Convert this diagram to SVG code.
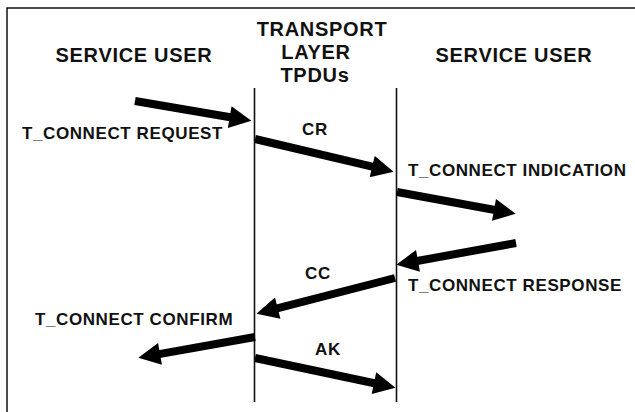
<svg xmlns="http://www.w3.org/2000/svg" width="635" height="412" viewBox="0 0 635 412">
  <style>
    .frame { fill: none; stroke: #111; stroke-width: 1.5; }
    .life { stroke: #111; stroke-width: 1.6; }
    .head { font-family: "Liberation Sans", Arial, sans-serif; font-weight: bold; font-size: 20px; letter-spacing: 0.7px; fill: #111; text-anchor: middle; }
    .lbl { font-family: "Liberation Sans", Arial, sans-serif; font-weight: bold; font-size: 17px; letter-spacing: 0.6px; fill: #111; }
    .msg { stroke: #000; stroke-width: 8; fill: none; marker-end: url(#head); }
  </style>
  <defs>
    <marker id="head" viewBox="0 0 10 10" refX="3" refY="5" markerWidth="24" markerHeight="22" markerUnits="userSpaceOnUse" orient="auto">
      <path d="M0,0 L10,5 L0,10 z" fill="#000"/>
    </marker>
  </defs>
  <rect width="635" height="412" fill="#fff"/>
  <!-- outer frame: top and left edges -->
  <path class="frame" d="M7,412 L7,8 L635,8"/>

  <g id="user-left">
    <text class="head" x="134" y="62">SERVICE USER</text>
  </g>
  <g id="transport-layer">
    <text class="head" x="322" y="36">TRANSPORT</text>
    <text class="head" x="316" y="59">LAYER</text>
    <text class="head" x="315" y="82">TPDUs</text>
    <line class="life" x1="254.5" y1="88" x2="254.5" y2="402"/>
    <line class="life" x1="396.5" y1="88" x2="396.5" y2="402"/>
  </g>
  <g id="user-right">
    <text class="head" x="514" y="62">SERVICE USER</text>
  </g>

  <g id="connectors">
    <line class="msg" x1="135" y1="101" x2="236.2" y2="118.2"/>
    <line class="msg" x1="255" y1="139" x2="378.6" y2="168.1"/>
    <line class="msg" x1="397" y1="192" x2="500.5" y2="211"/>
    <line class="msg" x1="516" y1="243" x2="411.5" y2="262"/>
    <line class="msg" x1="395" y1="278" x2="271.3" y2="309.8"/>
    <line class="msg" x1="255" y1="337" x2="153.5" y2="355.1"/>
    <line class="msg" x1="255" y1="358" x2="380.4" y2="384.5"/>
  </g>

  <g id="label-request"><text class="lbl" x="22" y="139">T_CONNECT REQUEST</text></g>
  <g id="label-cr"><text class="lbl" x="302" y="135">CR</text></g>
  <g id="label-indication"><text class="lbl" x="408" y="176">T_CONNECT INDICATION</text></g>
  <g id="label-cc"><text class="lbl" x="305" y="279">CC</text></g>
  <g id="label-response"><text class="lbl" x="408" y="291">T_CONNECT RESPONSE</text></g>
  <g id="label-confirm"><text class="lbl" x="35" y="325">T_CONNECT CONFIRM</text></g>
  <g id="label-ak"><text class="lbl" x="315" y="355">AK</text></g>
</svg>
